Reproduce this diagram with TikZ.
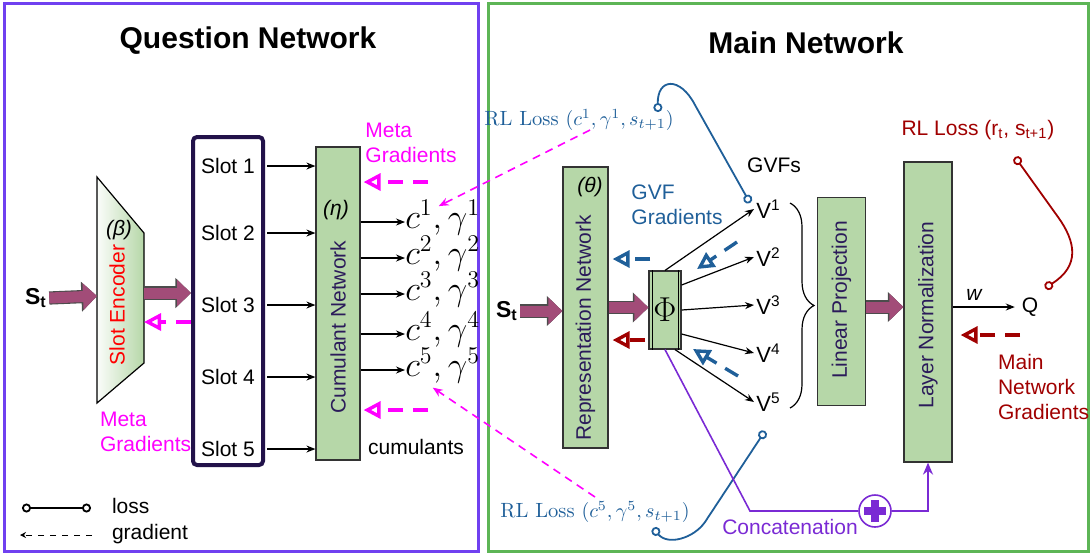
\documentclass[tikz,border=0pt]{standalone}
\usepackage{fontspec}
\setsansfont{Liberation Sans}
\renewcommand{\familydefault}{\sfdefault}
\usetikzlibrary{positioning,arrows.meta,decorations.pathreplacing,calc}
\definecolor{QPurple}{HTML}{7040F0}
\definecolor{MGreen}{HTML}{5DB556}
\definecolor{BoxGreen}{HTML}{B6D7A8}
\definecolor{BoxText}{HTML}{2B1B5A}
\definecolor{SlotNavy}{HTML}{22124A}
\definecolor{FatRed}{HTML}{A24C78}
\definecolor{MetaPink}{HTML}{FF00FF}
\definecolor{GvfBlue}{HTML}{1F5F99}
\definecolor{MainRed}{HTML}{A00000}
\definecolor{ConcPurple}{HTML}{7A2AD4}

\begin{document}
\begin{tikzpicture}[x=0.5pt, y=-0.5pt, font=\fontsize{10.5}{12.5}\selectfont,
    box/.style={draw=black!80, fill=BoxGreen, line width=0.6pt, inner sep=0pt},
    boxtxt/.style={rotate=90, text=BoxText},
    fat/.style={draw=FatRed, line width=5.5pt, -{Triangle[length=7pt,width=13pt]},
      preaction={draw=black!70, line width=6.6pt, -{Triangle[length=7.8pt,width=14.6pt]}}},
    arr/.style={line width=0.6pt, -{Stealth[length=4.5pt,width=3.5pt]}},
    grad/.style={line width=1.7pt, dash pattern=on 7.5pt off 5pt,
      -{Triangle[open,length=8.5pt,width=8.5pt]}},
    metad/.style={MetaPink, line width=0.8pt, dash pattern=on 4pt off 3pt,
      -{Stealth[length=5pt,width=4pt]}},
    lossc/.style={line width=0.9pt, {Circle[open,length=4.5pt]}-{Circle[open,length=4.5pt]}},
    title/.style={font=\bfseries\fontsize{15}{18}\selectfont},
    state/.style={font=\bfseries\fontsize{11.5}{13}\selectfont, inner sep=1pt},
    cg/.style={anchor=base west, inner sep=0pt, font=\fontsize{16.5}{19}\selectfont},
    rlloss/.style={text=GvfBlue, font=\rmfamily\fontsize{10.3}{12}\selectfont}]
  \useasboundingbox (0,0) rectangle (1091,554);

  % frames and titles
  \draw[QPurple, line width=1.5pt] (4,3) rectangle (478,551);
  \draw[MGreen, line width=1.5pt] (488,3) rectangle (1088,551);
  \node[title] (qtitle) at (248,41) {Question Network};
  \node[title] (mtitle) at (806,43) {Main Network};

  % question network
  \node[state] (st1) at (36,298) {S\textsubscript{t}};
  % unflipped y here, so that left/right shading colours stay put
  \begin{scope}[y=0.5pt]
    \shadedraw[left color=BoxGreen!6, right color=BoxGreen, draw=black, line width=0.6pt]
      (97,-177) -- (144,-233) -- (144,-363) -- (97,-403) -- cycle;
  \end{scope}
  \node[rotate=90, text=red] (enc) at (117,305) {Slot Encoder};
  \node[font=\itshape\fontsize{10.5}{12.5}\selectfont] (beta) at (119,230) {(β)};
  \coordinate (encL) at (97,296);
  \coordinate (encR) at (144,293);

  \node[draw=SlotNavy, line width=2pt, rounded corners=2pt, minimum width=35pt,
    minimum height=164pt] (slots) at (228,301) {};
  \foreach \i/\y in {1/166,2/233,3/305,4/377,5/449}
    \node (slot\i) at (228,\y) {Slot \i};

  \node[box, minimum width=22pt, minimum height=156.5pt] (cum) at (338,303.5) {};
  \node[boxtxt] (cumtxt) at (338,327) {Cumulant Network};
  \node[font=\itshape\fontsize{10.5}{12.5}\selectfont] (eta) at (336,210) {(η)};

  \draw[fat] (st1.east) -- (encL);
  \draw[fat] (encR) -- (encR -| slots.west);
  \draw[grad, MetaPink] ([yshift=-10.5pt]slots.west) -- ([yshift=-14.5pt]encR);
  \foreach \i in {1,...,5}
    \draw[arr] ([xshift=1pt]slot\i.center -| slots.east) -- (slot\i.center -| cum.west);

  \foreach \i/\y in {1/222,2/258,3/294,4/334,5/370} {
    \node[cg] (c\i) at (405,\y+6.5) {$c^{\i}, \gamma^{\i}$};
    \draw[arr] (cum.east |- 0,\y) -- (c\i.base west |- 0,\y);
  }

  \node[text=MetaPink, align=left] (metaq) at (411,143) {Meta\\Gradients};
  \node[text=MetaPink, align=left, anchor=west] (metae) at (93,432) {Meta\\Gradients};
  \coordinate (mg1) at (428,182);
  \coordinate (mg2) at (428,410);
  \draw[grad, MetaPink, shorten >=1.5pt] (mg1) -- (mg1 -| cum.east);
  \draw[grad, MetaPink, shorten >=1.5pt] (mg2) -- (mg2 -| cum.east);
  \node (cumul) at (416,447) {cumulants};

  % legend
  \coordinate (lg1) at (22,508);
  \coordinate (lg2) at (91,508);
  \coordinate (lg3) at (92,535);
  \coordinate (lg4) at (20,535);
  \draw[lossc] (lg1) -- (lg2);
  \draw[dashed, line width=0.5pt, -{Stealth[length=3pt,width=3pt]}] (lg3) -- (lg4);
  \node[anchor=west] (lgloss) at (105,506) {loss};
  \node[anchor=west] (lggrad) at (105,534) {gradient};

  % main network
  \node[state] (st2) at (507,311) {S\textsubscript{t}};
  \node[box, minimum width=22.5pt, minimum height=140.5pt] (rep) at (585.5,307.5) {};
  \node[boxtxt] (reptxt) at (585.5,328) {Representation Network};
  \node[font=\itshape\fontsize{10.5}{12.5}\selectfont] (theta) at (590,187) {(θ)};
  \node[box, minimum width=16pt, minimum height=39pt, font=\fontsize{16}{18}\selectfont]
    (phi) at (665,310) {$\Phi$};
  \draw[line width=0.6pt] ([xshift=2pt]phi.north west) -- ([xshift=2pt]phi.south west)
    ([xshift=-1.5pt]phi.north east) -- ([xshift=-1.5pt]phi.south east);
  \draw[fat] (st2.east) -- (st2 -| rep.west);
  \draw[fat] (rep.east) -- (rep.east -| phi.west);

  \coordinate (gb) at (650,259);
  \coordinate (gr) at (645,340);
  \draw[grad, GvfBlue, shorten >=2pt] (gb) -- (gb -| rep.east);
  \draw[grad, MainRed, shorten >=2pt] (gr) -- (gr -| rep.east);
  \node[text=GvfBlue, align=left] (gvfg) at (677,205) {GVF\\Gradients};

  \foreach \i/\y in {1/209,2/257,3/305,4/353,5/402}
    \node[anchor=west, inner sep=1pt, font=\fontsize{11}{13}\selectfont] (v\i) at (754,\y) {V\textsuperscript{\i}};
  \node (gvfs) at (774,165) {GVFs};
  \draw[arr] (phi.north) -- (v1.west);
  \draw[arr] ([yshift=12.5pt]phi.east) -- (v2.west);
  \draw[arr] (phi.east) -- (v3.west);
  \draw[arr] ([yshift=-12pt]phi.east) -- (v4.west);
  \draw[arr] ([xshift=5pt]phi.south) -- (v5.west);

  \coordinate (gd1) at (737,242);
  \coordinate (gd2) at (697,269);
  \coordinate (gd3) at (738,376);
  \coordinate (gd4) at (693,349);
  \draw[grad, GvfBlue] (gd1) -- (gd2);
  \draw[grad, GvfBlue] (gd3) -- (gd4);

  \coordinate (br1) at (790,203);
  \coordinate (br2) at (790,408);
  \draw[decorate, decoration={brace, amplitude=12pt}, line width=0.6pt] (br1) -- (br2);

  \node[box, minimum width=24pt, minimum height=104pt] (lin) at (841.5,301.5) {};
  \node[boxtxt] (lintxt) at (841.5,300) {Linear Projection};
  \node[box, minimum width=24pt, minimum height=150pt] (ln) at (928,312) {};
  \node[boxtxt] (lntxt) at (928,315) {Layer Normalization};
  \coordinate (la) at ([yshift=-2.75pt]lin.east);
  \draw[fat] (la) -- (la -| ln.west);

  \node (q) at (1030,307) {Q};
  \node[font=\itshape\fontsize{10.5}{12.5}\selectfont] (w) at (974,295) {w};
  \draw[arr] (ln.east |- q) -- (q.west);
  \coordinate (mr) at (1020,335);
  \draw[grad, MainRed, shorten >=4pt] (mr) -- (mr -| ln.east);
  \node[text=MainRed, align=left, anchor=west] (mng) at (991,387) {Main\\Network\\Gradients};

  % losses
  \node[text=MainRed] (rlq) at (978,130) {RL Loss (r\textsubscript{t}, s\textsubscript{t+1})};
  \coordinate (rq1) at (1015,157);
  \coordinate (rq2) at (1045,288);
  \draw[lossc, MainRed] (rq1) -- (1058,217) .. controls (1076,242) and (1080,266) .. (rq2);

  \node[rlloss] (rl1) at (579,120) {RL Loss $(c^1, \gamma^1, s_{t+1})$};
  \node[rlloss] (rl5) at (595,512) {RL Loss $(c^5, \gamma^5, s_{t+1})$};
  \coordinate (l1a) at (658,112);
  \coordinate (l1b) at (750,203);
  \coordinate (l5a) at (653,528);
  \coordinate (l5b) at (765,431);
  \draw[lossc, GvfBlue] (l1a) .. controls (657,78) and (680,76) .. (695,105) -- (l1b);
  \draw[lossc, GvfBlue] (l5a) .. controls (668,546) and (694,538) .. (705,522) -- (l5b);

  \coordinate (m1) at (590,130);
  \coordinate (m5) at (595,497);
  \draw[metad] (m1) -- ([xshift=-2pt,yshift=-3pt]c1.north);
  \draw[metad] (m5) -- ([xshift=-5pt,yshift=-2pt]c5.south);

  % concatenation
  \coordinate (cc1) at (750,511);
  \node[circle, draw=ConcPurple, fill=white, minimum size=16pt, inner sep=0pt,
    line width=0.8pt] (plus) at (875,511) {};
  \draw[ConcPurple, line width=0.8pt, -{Stealth[length=6pt,width=5pt]}]
    (phi.south) -- (cc1) -- (plus.west) (plus.east) -- (plus.east -| ln.south) -- (ln.south);
  \draw[ConcPurple, line width=4pt] ([xshift=-5.5pt]plus.center) -- ([xshift=5.5pt]plus.center)
    ([yshift=-5.5pt]plus.center) -- ([yshift=5.5pt]plus.center);
  \node[text=ConcPurple] (conc) at (790,527) {Concatenation};
\end{tikzpicture}
\end{document}
